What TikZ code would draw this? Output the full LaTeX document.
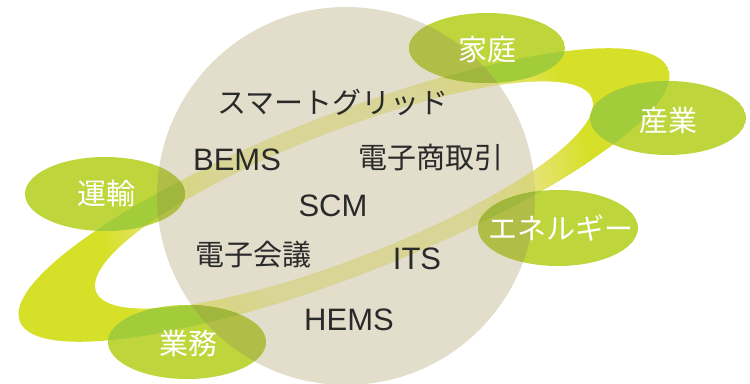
\documentclass[tikz,border=0pt]{standalone}
\usepackage{fontspec}
\setmainfont{Liberation Sans}
\newfontfamily\jp{Noto Sans CJK JP}
\definecolor{beige}{HTML}{E3DDCC}
\definecolor{bandyel}{HTML}{D7E028}
\definecolor{bandfade}{HTML}{E6E47A}
\definecolor{bandpale}{HTML}{D8D597}
\definecolor{bandedge}{HTML}{D9D67C}
\definecolor{leaf}{HTML}{BED63C}
\definecolor{leafband}{HTML}{A2CC3A}
\definecolor{leafcirc}{HTML}{B0BE48}
\definecolor{leafbc}{HTML}{A0B63C}
\definecolor{ink}{HTML}{2A2A2A}
\def\OuterRing{[shift={(344,195)},rotate=21.3] (0,0) ellipse [x radius=348, y radius=80]}
\def\InnerRing{[shift={(344,195)},rotate=21.3] (0,0) ellipse [x radius=266, y radius=64]}
\def\RingPath{[shift={(344,195)},rotate=21.3] (0,0) ellipse [x radius=348, y radius=80] (0,0) ellipse [x radius=266, y radius=64]}
\def\BigCircle{(346,196) circle [radius=189]}
\begin{document}
\begin{tikzpicture}[x=0.5pt,y=-0.5pt,
  darklbl/.style={text=ink,inner sep=0pt,font=\fontsize{14.5pt}{16pt}\selectfont\jp},
  darklat/.style={text=ink,inner sep=0pt,font=\fontsize{15.5pt}{17pt}\selectfont},
  whitelbl/.style={text=white,inner sep=0pt,font=\fontsize{14.5pt}{16pt}\selectfont\jp}]
\useasboundingbox (0,0) rectangle (750,384);
% ring band outside the circle, fading towards the circle edge
\begin{scope}
  \clip \OuterRing;
  \fill[bandyel] \OuterRing;
  \foreach \i in {0,...,10}{
    \pgfmathsetmacro{\rr}{249-6*\i}
    \pgfmathtruncatemacro{\tt}{100-10*\i}
    \fill[bandyel!\tt!bandfade] (346,196) circle [radius=\rr];
  }
\end{scope}
\fill[white] \InnerRing;
% big circle
\fill[beige] \BigCircle;
% band portion inside the circle
\foreach \i in {0,...,6}{
  \pgfmathsetmacro{\rr}{189-10*\i}
  \pgfmathtruncatemacro{\tt}{100-16*\i}
  \begin{scope}
    \clip (346,196) circle [radius=\rr];
    \fill[bandedge!\tt!bandpale,even odd rule] \RingPath;
  \end{scope}
}
% green ellipses with their overlaps
\foreach \cx/\cy/\rx/\ry in {487/48/78/35, 668/118/78/37, 558/228/80/38, 105/194/80/37, 187/342/79/37}{
  \begin{scope}
    \clip (\cx,\cy) ellipse [x radius=\rx, y radius=\ry];
    \fill[leaf] (\cx,\cy) ellipse [x radius=\rx, y radius=\ry];
    \fill[leafband,even odd rule] \RingPath;
    \fill[leafcirc] \BigCircle;
    \clip \BigCircle;
    \fill[leafbc,even odd rule] \RingPath;
  \end{scope}
}
% labels
\node[darklbl] (sg)   at (333,102) {スマートグリッド};
\node[darklat] (bems) at (237,160) {BEMS};
\node[darklbl] (ec)   at (431,158) {電子商取引};
\node[darklat] (scm)  at (333,206) {SCM};
\node[darklbl] (tv)   at (253,255) {電子会議};
\node[darklat] (its)  at (417,259) {ITS};
\node[darklat] (hems) at (349,320) {HEMS};
\node[whitelbl] (home) at (487,50)  {家庭};
\node[whitelbl] (ind)  at (668,120) {産業};
\node[whitelbl] (ene)  at (561,228) {エネルギー};
\node[whitelbl] (tra)  at (106,193) {運輸};
\node[whitelbl] (biz)  at (188,343) {業務};
\end{tikzpicture}
\end{document}
